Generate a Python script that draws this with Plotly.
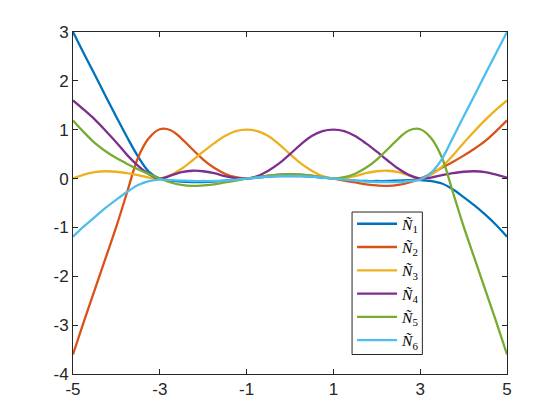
import plotly.graph_objects as go

x = [-5, -4.75, -4.5, -4.25, -4, -3.75, -3.5, -3.25, -3, -2.75, -2.5, -2.25, -2, -1.75, -1.5, -1.25,
     -1, -0.75, -0.5, -0.25, 0, 0.25, 0.5, 0.75, 1, 1.25, 1.5, 1.75, 2, 2.25, 2.5, 2.75,
     3, 3.25, 3.5, 3.75, 4, 4.25, 4.5, 4.75, 5]

n1 = [3.0, 2.56, 2.13, 1.69, 1.26, 0.84, 0.45, 0.14, 0.0, -0.04, -0.06, -0.07, -0.07, -0.06, -0.04, -0.02,
      0.0, 0.02, 0.04, 0.05, 0.05, 0.05, 0.04, 0.02, 0.0, -0.02, -0.04, -0.05, -0.05, -0.05, -0.04, -0.03,
      -0.03, -0.05, -0.1, -0.22, -0.38, -0.55, -0.74, -0.95, -1.19]
n2 = [-3.6, -2.93, -2.28, -1.63, -0.98, -0.27, 0.43, 0.83, 1.01, 0.99, 0.82, 0.6, 0.39, 0.22, 0.1, 0.03,
      0.0, 0.03, 0.06, 0.08, 0.09, 0.08, 0.06, 0.03, 0.0, -0.04, -0.08, -0.12, -0.14, -0.15, -0.13, -0.08,
      0.0, 0.1, 0.22, 0.34, 0.47, 0.61, 0.77, 0.97, 1.19]
n3 = [0.0, 0.08, 0.13, 0.15, 0.14, 0.11, 0.07, 0.02, 0.0, 0.07, 0.2, 0.37, 0.55, 0.72, 0.87, 0.97,
      1.0, 0.97, 0.87, 0.7, 0.5, 0.31, 0.16, 0.05, 0.0, 0.01, 0.05, 0.11, 0.15, 0.16, 0.13, 0.06,
      0.0, 0.08, 0.24, 0.47, 0.73, 0.97, 1.2, 1.41, 1.6]
n4 = [1.6, 1.41, 1.21, 0.98, 0.74, 0.48, 0.26, 0.09, 0.0, 0.06, 0.13, 0.16, 0.15, 0.11, 0.05, 0.01,
      0.0, 0.05, 0.16, 0.31, 0.5, 0.7, 0.87, 0.97, 1.0, 0.97, 0.87, 0.72, 0.55, 0.37, 0.2, 0.07,
      0.0, 0.02, 0.07, 0.11, 0.14, 0.15, 0.13, 0.08, 0.02]
n5 = [1.19, 0.95, 0.73, 0.56, 0.42, 0.3, 0.19, 0.09, 0.0, -0.08, -0.13, -0.15, -0.14, -0.12, -0.08, -0.04,
      0.0, 0.03, 0.06, 0.08, 0.09, 0.08, 0.06, 0.03, 0.0, 0.03, 0.1, 0.22, 0.39, 0.6, 0.82, 0.99,
      1.01, 0.83, 0.43, -0.27, -0.98, -1.63, -2.28, -2.93, -3.6]
n6 = [-1.19, -0.98, -0.79, -0.6, -0.43, -0.27, -0.13, -0.05, -0.02, -0.03, -0.04, -0.05, -0.05, -0.05, -0.04, -0.02,
      0.0, 0.02, 0.04, 0.05, 0.05, 0.05, 0.04, 0.02, 0.0, -0.02, -0.04, -0.06, -0.07, -0.07, -0.07, -0.05,
      -0.02, 0.12, 0.4, 0.83, 1.27, 1.7, 2.14, 2.57, 3.0]

series = [n1, n2, n3, n4, n5, n6]
names = ["<i>Ñ</i><sub>%d</sub>" % i for i in range(1, 7)]
colors = ["#0072BD", "#D95319", "#EDB120", "#7E2F8E", "#77AC30", "#4DBEEE"]

xticks = [-5, -3, -1, 1, 3, 5]
xtick_text = ["-5", "-3", "-1", "1", "3", "5"]
yticks = [-4, -3, -2, -1, 0, 1, 2, 3]
ytick_text = ["-4", "-3", "-2", "-1", "0", "1", "2", "3"]

fig = go.Figure()
for ys, nm, c in zip(series, names, colors):
    fig.add_trace(go.Scatter(x=x, y=ys, mode="lines", name=nm,
                             line=dict(color=c, width=2.3, shape="spline", smoothing=1.0)))

axis_common = dict(showline=True, linecolor="#262626", linewidth=1, mirror="ticks",
                   ticks="inside", ticklen=5, tickcolor="#262626", showgrid=False,
                   zeroline=False, tickfont=dict(family="Liberation Sans", size=17, color="#262626"))
fig.update_xaxes(range=[-5, 5], tickvals=xticks, ticktext=xtick_text, **axis_common)
fig.update_yaxes(range=[-4, 3], tickvals=yticks, ticktext=ytick_text, **axis_common)

# legend frame (white box with dark border) drawn behind the legend entries
fig.add_shape(type="rect", xref="paper", yref="paper", x0=0.643, x1=0.805, y0=0.057, y1=0.4736,
              line=dict(color="#262626", width=1), fillcolor="white", layer="above")

fig.update_layout(
    width=552, height=412,
    margin=dict(l=65, r=53, t=24, b=46),
    paper_bgcolor="white", plot_bgcolor="white",
    legend=dict(x=0.643, y=0.488, xanchor="left", yanchor="top",
                borderwidth=0, bgcolor="rgba(0,0,0,0)",
                font=dict(family="Liberation Serif", size=15.6, color="#000000"),
                itemwidth=40, tracegroupgap=0),
    showlegend=True,
)

fig.write_html("out.html")
